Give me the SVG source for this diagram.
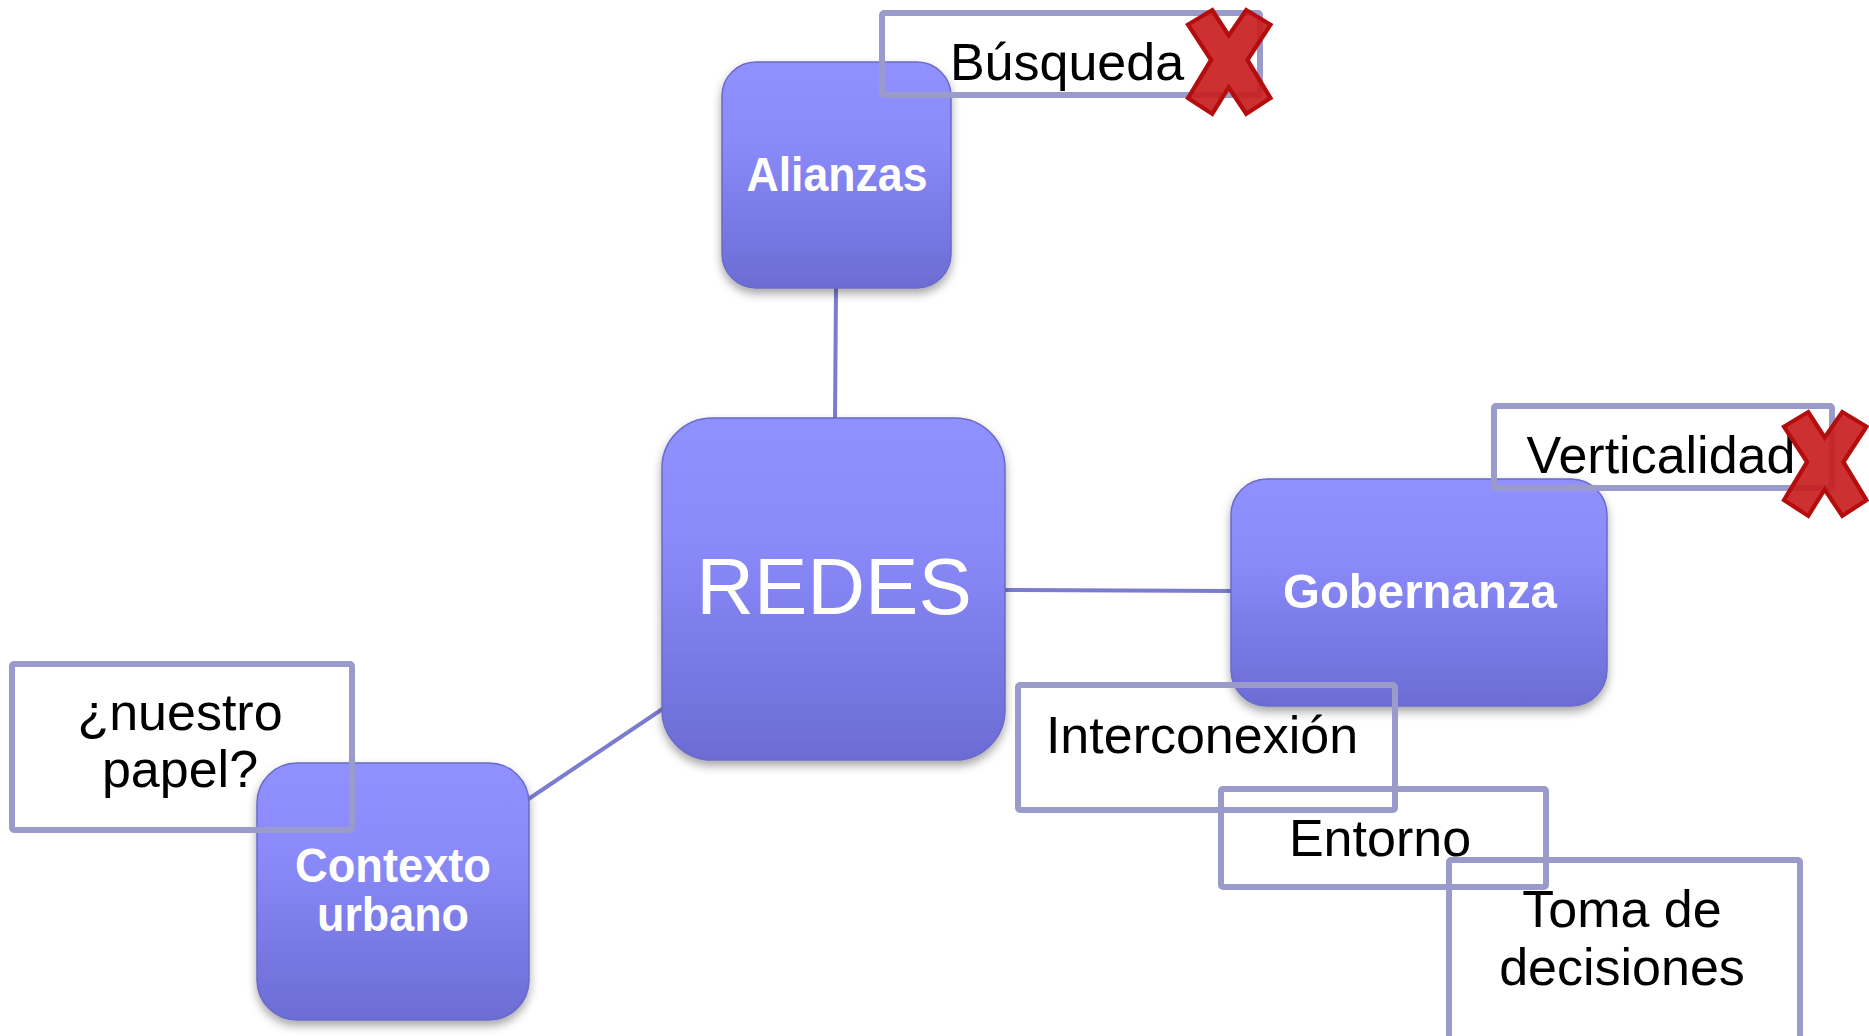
<svg xmlns="http://www.w3.org/2000/svg" width="1869" height="1036" viewBox="0 0 1869 1036">
<defs>
<linearGradient id="ng" x1="0" y1="0" x2="0" y2="1">
<stop offset="0" stop-color="#9090ff"/>
<stop offset="0.35" stop-color="#8a8afa"/>
<stop offset="1" stop-color="#6c6cd4"/>
</linearGradient>
<filter id="sh" x="-10%" y="-10%" width="120%" height="125%">
<feDropShadow dx="0" dy="5" stdDeviation="5" flood-color="#000" flood-opacity="0.35"/>
</filter>
<path id="xmark" d="M0,17 L22,2 L37,28 L53,2 L75,17 L54,53 L75,92 L53,108 L37,81 L22,108 L0,92 L21,53 Z"/>
<style>
.node{fill:url(#ng);stroke:#6a6ac8;stroke-width:1.5;filter:url(#sh)}
.nt{font-family:"Liberation Sans",Arial,sans-serif;font-weight:bold;fill:#fff;text-anchor:middle}
.box{fill:none;stroke:#9a9acb;stroke-width:6}
.bt{font-family:"Liberation Sans",Arial,sans-serif;fill:#000;text-anchor:middle;font-size:52px}
.conn{stroke:#7b7bcf;stroke-width:4;fill:none}
.x{fill:#c81e1e;fill-opacity:0.92;stroke:#b50d0d;stroke-width:4;stroke-linejoin:miter}
</style>
</defs>
<rect width="1869" height="1036" fill="#fff"/>
<g id="connectors">
<line class="conn" x1="836" y1="288" x2="835" y2="420"/>
<line class="conn" x1="1003" y1="590" x2="1233" y2="591"/>
<line class="conn" x1="664" y1="708" x2="527" y2="800"/>
</g>
<g id="n-alianzas">
<rect class="node" x="722" y="62" width="229" height="226" rx="34"/>
<text class="nt" x="837" y="191" font-size="48" textLength="181" lengthAdjust="spacingAndGlyphs">Alianzas</text>
</g>
<g id="n-redes">
<rect class="node" x="662" y="418" width="343" height="342" rx="50"/>
<text x="834" y="614" font-family="Liberation Sans,Arial,sans-serif" font-size="80" fill="#fff" text-anchor="middle">REDES</text>
</g>
<g id="n-gobernanza">
<rect class="node" x="1231" y="479" width="376" height="227" rx="36"/>
<text class="nt" x="1420" y="608" font-size="49" textLength="274" lengthAdjust="spacingAndGlyphs">Gobernanza</text>
</g>
<g id="n-contexto">
<rect class="node" x="257" y="763" width="272" height="257" rx="40"/>
<text class="nt" x="393" y="882" font-size="48" textLength="196" lengthAdjust="spacingAndGlyphs">Contexto</text>
<text class="nt" x="393" y="931" font-size="48" textLength="152" lengthAdjust="spacingAndGlyphs">urbano</text>
</g>
<g id="b-busqueda">
<rect class="box" x="882" y="13" width="378" height="82" rx="2"/>
<text class="bt" x="1067" y="80">Búsqueda</text>
<use href="#xmark" class="x" transform="translate(1188,8) scale(1.1,0.98)"/>
</g>
<g id="b-verticalidad">
<rect class="box" x="1494" y="406" width="338" height="82" rx="2"/>
<text class="bt" x="1661" y="473">Verticalidad</text>
<use href="#xmark" class="x" transform="translate(1784,410) scale(1.1,0.98)"/>
</g>
<g id="b-interconexion">
<rect class="box" x="1018" y="685" width="377" height="125" rx="2"/>
<text class="bt" x="1202" y="753">Interconexión</text>
</g>
<g id="b-entorno">
<rect class="box" x="1221" y="789" width="325" height="98" rx="2"/>
<text class="bt" x="1380" y="856">Entorno</text>
</g>
<g id="b-toma">
<rect class="box" x="1449" y="860" width="351" height="190" rx="2"/>
<text class="bt" x="1622" y="927">Toma de</text>
<text class="bt" x="1622" y="985">decisiones</text>
</g>
<g id="b-papel">
<rect class="box" x="12" y="664" width="340" height="166" rx="2"/>
<text class="bt" x="180" y="730">¿nuestro</text>
<text class="bt" x="180" y="787">papel?</text>
</g>
</svg>
